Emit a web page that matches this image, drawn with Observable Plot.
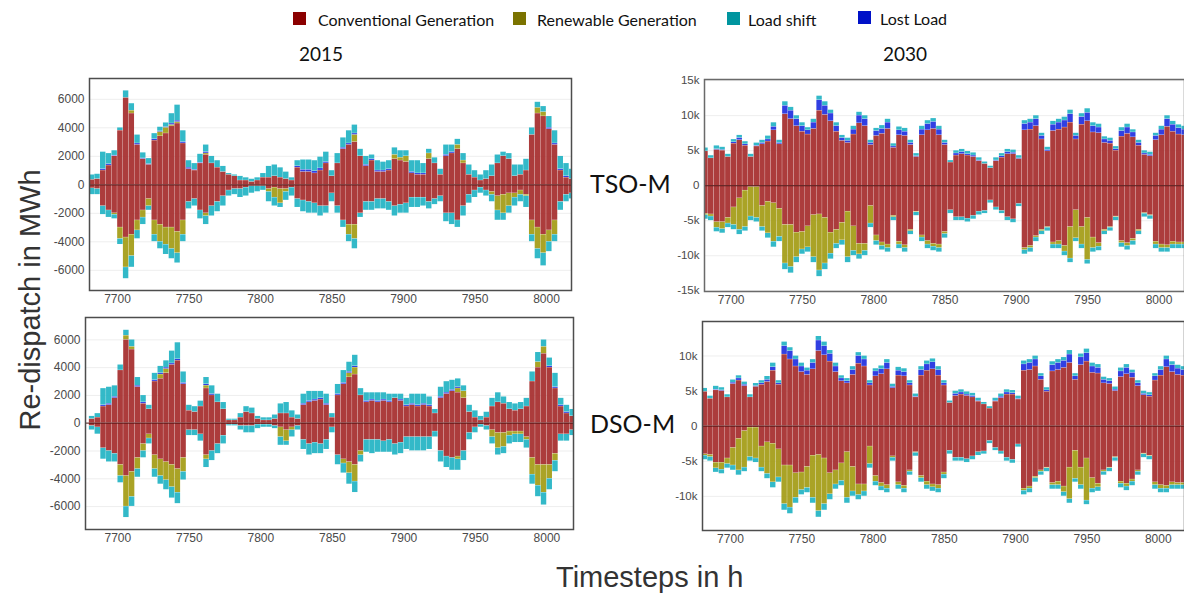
<!DOCTYPE html>
<html><head><meta charset="utf-8">
<script src="https://cdn.jsdelivr.net/npm/d3@7"></script>
<script src="https://cdn.jsdelivr.net/npm/@observablehq/plot@0.6"></script>
<style>
html,body{margin:0;padding:0;background:#fff;}
#root{position:relative;width:1184px;height:596px;overflow:hidden;background:#fff;}
.abs{position:absolute;white-space:nowrap;}
.lg{font-family:Lato,"Open Sans",sans-serif;font-size:16px;color:#111;line-height:18px;}
.sw{position:absolute;width:13px;height:13px;}
.ttl{font-family:Lato,"Open Sans",sans-serif;font-size:19px;color:#111;}
.row{font-family:Lato,"Open Sans",sans-serif;font-size:25px;color:#111;}
.axt{font-family:"Liberation Sans",Arial,sans-serif;font-size:29px;color:#333;}
</style></head>
<body><div id="root"></div>
<script>
// ---------- data ----------
const timesteps = d3.range(7680, 8020, 4); // 4-hour bins, start hour
const seriesNames = ["Conventional Generation", "Renewable Generation", "Lost Load", "Load shift"];
const barColors = ["#a52b2b", "#a39b14", "#1f2fe0", "#22b3c3"];
const legendNames = ["Conventional Generation", "Renewable Generation", "Load shift", "Lost Load"];
const legendColors = ["#8b0000", "#7b7300", "#00959f", "#0011c8"];
const xTicks = [7700, 7750, 7800, 7850, 7900, 7950, 8000];
const yTicks2015 = [-6000, -4000, -2000, 0, 2000, 4000, 6000];
const yTicksTSO2030 = [-15000, -10000, -5000, 0, 5000, 10000, 15000];
const yTicksDSO2030 = [-10000, -5000, 0, 5000, 10000];
const kLabels = {"-15000": "-15k", "-10000": "-10k", "-5000": "-5k", "0": "0", "5000": "5k", "10000": "10k", "15000": "15k"};

// 2015, TSO-M
const tso15ConvP = [350,400,1000,1350,2000,3800,6100,5000,2800,1800, 1400,3100,3400,3600,4100,4300,2900,1100,1000,1500, 2100,1500,1200,900,700,600,300,300,200,300, 500,500,600,500,400,300,1200,900,900,800, 1000,1500,600,1500,2500,2800,3000,2000,1300,1700, 900,900,1000,1800,1700,1600,800,700,700,1800, 1500,700,2000,2200,2500,1500,700,500,300,400, 600,1500,2000,1800,600,700,1000,3500,5000,4800, 3900,2800,1000,500,400];
const tso15RenP = [0,0,0,0,0,0,0,200,0,0, 0,0,300,400,100,100,0,0,0,0, 100,0,0,0,0,0,0,0,0,0, 0,0,0,0,0,0,0,0,0,0, 0,0,0,0,0,0,500,0,0,0, 0,0,0,300,200,400,0,0,0,400, 0,0,0,0,300,200,0,0,0,0, 0,0,0,0,0,0,0,0,400,300, 0,0,0,0,0];
const tso15LostP = [0,0,100,100,50,0,0,0,100,50, 50,100,50,50,100,100,100,100,50,50, 100,0,0,0,0,0,0,0,0,0, 0,0,0,0,0,0,100,150,150,150, 150,100,0,0,100,100,100,0,100,100, 100,100,100,0,0,0,100,100,100,0, 0,0,100,100,0,0,0,0,0,0, 0,0,0,0,0,0,0,0,0,0, 100,100,100,100,0];
const tso15ShiftP = [350,350,1200,750,350,200,500,500,600,400, 400,400,300,300,700,1100,800,500,450,600, 500,500,500,400,100,100,300,200,200,200, 300,800,800,700,500,200,400,700,700,750, 800,700,400,700,700,900,600,500,600,300, 700,600,600,500,500,400,800,900,700,300, 400,400,700,500,400,500,700,500,400,600, 800,600,300,400,800,700,800,500,400,400, 800,900,900,900,700];
const tso15ConvN = [-250,-300,-1500,-1800,-2000,-3000,-3700,-3500,-2500,-1800, -1000,-2500,-2800,-3000,-3000,-3300,-2500,-1200,-1000,-1800, -2000,-1500,-1200,-800,-400,-300,-300,-200,-100,-100, -100,-300,-200,-300,-300,-200,-1000,-1100,-1200,-1300, -1500,-1500,-600,-1500,-2500,-2800,-2800,-2000,-1200,-1200, -1000,-1000,-1200,-1500,-1400,-1300,-900,-900,-900,-1200, -1000,-800,-2000,-2000,-2500,-1500,-700,-400,-200,-400, -500,-800,-700,-600,-600,-400,-700,-2500,-3000,-3500, -3200,-2500,-1200,-700,-600];
const tso15RenN = [0,0,0,0,-100,-800,-2100,-1500,-700,-500, -500,-1000,-1200,-1200,-1500,-1500,-1000,0,0,0, -200,0,0,0,0,0,0,0,0,0, 0,-200,-700,-1000,-200,0,0,0,0,0, 0,0,0,0,0,-700,-1000,0,0,0, 0,0,0,0,0,0,0,0,0,0, 0,0,0,0,0,0,0,0,0,0, -200,-1000,-1300,-900,-300,-300,-100,-1000,-1500,-1300, -800,-1000,0,0,0];
const tso15ShiftN = [-450,-400,-600,-500,-300,-400,-800,-800,-600,-500, -300,-500,-500,-700,-700,-700,-500,-500,-500,-600, -600,-700,-700,-700,-400,-400,-600,-600,-500,-400, -300,-700,-600,-300,-600,-600,-600,-800,-800,-700, -700,-500,-600,-500,-500,-500,-700,-300,-600,-600, -700,-700,-600,-700,-600,-700,-700,-700,-600,-500, -400,-400,-600,-800,-500,-700,-600,-500,-400,-400, -500,-700,-500,-500,-600,-500,-800,-500,-700,-900, -700,-500,-600,-500,-400];

// 2015, DSO-M
const dso15ConvP = [300,400,1200,1300,1800,3800,6000,5300,2600,1400, 1000,3000,3200,3600,4200,4500,2800,900,800,1200, 2500,2000,1500,1000,200,200,400,800,700,300, 200,200,300,700,700,400,300,1300,1500,1600, 1700,1300,400,2000,2800,3300,3500,2000,1500,1600, 1500,1600,1500,1800,1600,1200,1300,1200,1300,1200, 700,1800,2100,2300,2200,1800,800,400,200,400, 1200,1500,1400,1000,900,1000,1200,3000,4000,5000, 4000,2500,1200,700,500];
const dso15RenP = [0,0,0,0,0,0,300,200,0,0, 0,0,300,300,0,0,0,0,0,0, 200,0,0,0,0,0,0,0,0,0, 0,0,0,0,0,0,0,0,0,0, 0,0,0,0,0,300,500,0,0,0, 0,0,0,0,0,0,0,0,0,0, 0,0,0,0,300,500,0,0,0,0, 0,0,0,0,0,0,0,0,400,500, 0,0,0,0,0];
const dso15LostP = [0,0,100,100,100,0,0,0,100,100, 0,100,100,100,100,100,100,0,0,0, 100,100,0,0,0,0,0,0,0,0, 0,0,0,0,0,0,0,100,100,100, 100,100,0,100,100,100,100,0,100,100, 100,100,100,0,100,100,100,100,100,100, 0,100,100,100,100,0,0,0,0,0, 0,0,0,0,0,0,0,0,0,0, 100,100,100,100,0];
const dso15ShiftP = [200,300,1200,1200,800,400,400,500,600,500, 300,500,500,500,900,1200,800,400,400,400, 500,600,600,500,100,100,300,400,400,200, 200,200,300,700,800,500,300,700,700,600, 500,700,300,700,900,700,800,500,600,500, 600,500,500,300,400,500,700,800,700,600, 300,700,800,700,600,400,500,500,300,400, 600,700,500,500,500,500,600,700,700,500, 600,1000,500,500,500];
const dso15ConvN = [-200,-300,-1800,-2000,-2200,-3000,-3800,-3500,-2500,-1500, -800,-2300,-2600,-2800,-3000,-3300,-2500,-500,-500,-800, -2300,-2000,-1500,-900,-100,-100,-200,-200,-200,-100, -100,-100,-200,-300,-500,-300,-200,-1200,-1500,-1400, -1500,-1200,-300,-2300,-2600,-2800,-3000,-2000,-1200,-1200, -1200,-1300,-1200,-1500,-1400,-1000,-1000,-1000,-1000,-1000, -600,-2000,-2400,-2500,-2400,-2000,-700,-300,-100,-200, -500,-700,-700,-600,-600,-600,-1000,-2500,-3000,-3000, -3000,-2200,-800,-800,-500];
const dso15RenN = [0,0,0,0,0,-800,-2200,-1800,-800,-500, -300,-1000,-1200,-1300,-1600,-1700,-1000,0,0,0, -300,0,0,0,0,0,0,0,0,0, 0,0,0,-700,-800,-200,0,0,0,0, 0,0,0,0,-300,-800,-1200,-300,0,0, 0,0,0,0,0,0,0,0,0,0, 0,0,0,0,-200,0,0,0,0,0, -500,-1100,-1000,-300,-200,-200,-200,-1200,-1500,-2000, -1000,-500,0,0,0];
const dso15ShiftN = [-300,-500,-800,-800,-600,-500,-800,-700,-600,-500, -400,-600,-600,-700,-800,-800,-600,-400,-400,-500, -600,-700,-700,-600,-100,-100,-300,-500,-500,-300, -200,-200,-200,-600,-300,-500,-300,-700,-800,-800, -700,-700,-400,-700,-700,-800,-800,-500,-900,-1000, -900,-800,-900,-800,-800,-900,-1000,-1000,-1000,-900, -400,-800,-800,-900,-800,-700,-500,-400,-200,-300, -500,-500,-500,-600,-600,-600,-600,-700,-800,-900, -800,-800,-500,-500,-400];

// 2030, TSO-M
const tso30ConvP = [4900,3900,5100,5000,4100,6000,6500,5700,4100,5600, 5900,6300,7900,5900,10200,9500,8500,7700,7300,8100, 10700,10100,9200,7700,6400,6100,7300,8900,8500,5800, 7100,7400,8100,5400,7200,7100,5800,4100,7200,7900, 8100,7200,5800,3300,4300,4500,4300,4100,3500,3100, 2500,3500,4000,4500,4500,3800,7900,8000,8500,6600, 4900,7800,8000,8300,9000,6600,8700,9200,7600,7500, 6100,6000,5000,7000,7400,6900,5700,4400,4200,6500, 7200,8400,7700,7300,7200];
const tso30LostP = [0,0,100,100,0,200,300,200,0,100, 200,300,500,200,1200,1200,1000,800,600,900, 1500,1300,1100,800,400,300,700,1100,1000,300, 700,700,900,200,700,600,300,100,800,900, 1000,800,300,0,300,300,200,200,100,0, 0,100,200,300,200,100,900,1000,1000,500, 200,900,1000,1000,1200,500,1100,1200,900,800, 500,400,200,800,900,700,400,200,200,600, 800,1100,1000,900,800];
const tso30ShiftP = [500,400,500,400,400,400,400,400,400,400, 400,500,600,400,600,500,500,500,400,500, 600,600,500,500,400,400,500,500,500,400, 400,500,500,400,500,500,400,400,500,500, 500,500,400,300,400,400,400,400,400,300, 300,400,400,400,400,400,500,500,500,400, 400,500,500,500,600,400,500,600,500,500, 400,400,400,500,500,400,400,400,400,400, 500,500,500,500,500];
const tso30ConvN = [-4000,-4100,-5200,-5200,-4600,-3100,-1800,-700,-200,-200, -2900,-2300,-2500,-3300,-5600,-5600,-6700,-6600,-5800,-4200, -4100,-4600,-6700,-6300,-5300,-3700,-5800,-8300,-8300,-2900, -7100,-8100,-8400,-4300,-8000,-8500,-6300,-3700,-7100,-7900, -8300,-8400,-6600,-3500,-4500,-4500,-4700,-4300,-3700,-3600, -2100,-3100,-3600,-4500,-4800,-2600,-8900,-8600,-7200,-6300, -5900,-8100,-7900,-8600,-5900,-3500,-5900,-4600,-7400,-8200, -6300,-5900,-4400,-7900,-8200,-7600,-6300,-3900,-4200,-8000, -8400,-8500,-8000,-8100,-8100];
const tso30RenN = [-200,-300,-800,-1000,-800,-2500,-4500,-5200,-4200,-4400, -3000,-4500,-5500,-4000,-5500,-6000,-3500,-2500,-3000,-6000, -8000,-6500,-3000,-2000,-2500,-6500,-3500,-1500,-1000,-2500, -800,-500,-500,-200,-400,-400,-200,-100,-300,-500, -400,-500,-300,0,0,0,0,0,0,0, 0,0,0,0,0,0,-300,-300,-200,-200, -100,-300,-500,-800,-4500,-4000,-2500,-6000,-1500,-500, -200,-100,-100,-300,-400,-300,-200,-100,-100,-400, -500,-400,-400,-300,-300];
const tso30ShiftN = [-600,-600,-600,-600,-600,-700,-700,-600,-600,-600, -600,-700,-800,-700,-900,-900,-800,-700,-700,-800, -900,-900,-800,-700,-700,-800,-700,-700,-700,-600, -600,-600,-600,-500,-600,-600,-500,-500,-600,-600, -600,-600,-600,-500,-500,-500,-500,-500,-500,-400, -400,-400,-400,-500,-500,-400,-600,-600,-600,-500, -500,-600,-600,-600,-600,-500,-600,-600,-600,-600, -500,-500,-500,-600,-600,-600,-500,-500,-500,-600, -600,-600,-600,-600,-600];

// 2030, DSO-M (reads the same as TSO-M in the picture)
const dso30ConvP = tso30ConvP, dso30LostP = tso30LostP, dso30ShiftP = tso30ShiftP;
const dso30ConvN = tso30ConvN, dso30RenN = tso30RenN, dso30ShiftN = tso30ShiftN;

// ---------- build ----------
function buildRows(parts) {
  const out = [];
  for (const [name, arr] of parts) {
    arr.forEach((v, i) => { if (v !== 0) out.push({t: timesteps[i], t2: timesteps[i] + 4, series: name, value: v}); });
  }
  return out;
}
const [CG, RG, LL, LS] = seriesNames;
const rowsTSO15 = buildRows([[CG, tso15ConvP],[RG, tso15RenP],[LL, tso15LostP],[LS, tso15ShiftP],[CG, tso15ConvN],[RG, tso15RenN],[LS, tso15ShiftN]]);
const rowsDSO15 = buildRows([[CG, dso15ConvP],[RG, dso15RenP],[LL, dso15LostP],[LS, dso15ShiftP],[CG, dso15ConvN],[RG, dso15RenN],[LS, dso15ShiftN]]);
const rowsTSO30 = buildRows([[CG, tso30ConvP],[LL, tso30LostP],[LS, tso30ShiftP],[CG, tso30ConvN],[RG, tso30RenN],[LS, tso30ShiftN]]);
const rowsDSO30 = buildRows([[CG, dso30ConvP],[LL, dso30LostP],[LS, dso30ShiftP],[CG, dso30ConvN],[RG, dso30RenN],[LS, dso30ShiftN]]);

function panel(rows, o) {
  return Plot.plot({
    width: o.width, height: o.height,
    marginLeft: o.ml, marginRight: o.mr, marginTop: o.mt, marginBottom: o.mb,
    x: {domain: o.xd},
    y: {domain: o.yd},
    color: {domain: seriesNames, range: barColors},
    style: {fontFamily: "'Liberation Sans', Arial, sans-serif", fontSize: "12px", color: "#4a4a4a", background: "transparent"},
    marks: [
      Plot.gridY(o.yt, {stroke: "#000", strokeOpacity: 0.07}),
      Plot.rectY(rows, {x1: "t", x2: "t2", y: "value", fill: "series", order: seriesNames, inset: 0.15, fillOpacity: 0.92, clip: true}),
      Plot.ruleY([0], {stroke: "#4a0d0d", strokeWidth: 1.2, strokeOpacity: 0.75}),
      Plot.axisX(xTicks, {tickSize: 0, tickPadding: 4, tickFormat: d => String(d), label: null, fontSize: 12}),
      Plot.axisY(o.yt, {tickSize: 0, tickPadding: 5, tickFormat: o.yf, label: null, fontSize: o.yfs}),
      Plot.frame({stroke: o.frame, strokeWidth: 1.5})
    ]
  });
}

const root = document.getElementById("root");
function place(el, left, top) { el.style.position = "absolute"; el.style.left = left + "px"; el.style.top = top + "px"; root.appendChild(el); }

place(panel(rowsTSO15, {width: 580, height: 240, ml: 89, mr: 9, mt: 8, mb: 20, xd: [7680.4, 8017.5], yd: [-7417, 7460], yt: yTicks2015, yf: d => String(d), yfs: 12, frame: "#4d4d4d"}), 0, 70);
place(panel(rowsDSO15, {width: 580, height: 240, ml: 85, mr: 7, mt: 7, mb: 21, xd: [7677.4, 8018.6], yd: [-7650, 7610], yt: yTicks2015, yf: d => String(d), yfs: 12, frame: "#4d4d4d"}), 0, 310);
place(panel(rowsTSO30, {width: 546, height: 240, ml: 64, mr: 2, mt: 9, mb: 19, xd: [7681.3, 8017.9], yd: [-15100, 15160], yt: yTicksTSO2030, yf: d => kLabels[d], yfs: 11.5, frame: "#6a6a6a"}), 640, 70);
place(panel(rowsDSO30, {width: 546, height: 240, ml: 62, mr: 2, mt: 11, mb: 20, xd: [7680.4, 8018.4], yd: [-14860, 14915], yt: yTicksDSO2030, yf: d => kLabels[d], yfs: 11.5, frame: "#4d4d4d"}), 640, 310);

// ---------- text ----------
function text(cls, str, left, top, extra) {
  const d = document.createElement("div");
  d.className = "abs " + cls; d.textContent = str;
  place(d, left, top);
  if (extra) Object.assign(d.style, extra);
  return d;
}
// legend: [swatch x, text x, top]
const legendPos = [[293, 318, 11], [513, 537, 11], [727, 748, 11], [858, 880, 10]];
legendNames.forEach((name, i) => {
  const [sx, tx, sy] = legendPos[i];
  const sw = document.createElement("div");
  sw.className = "sw"; sw.style.background = legendColors[i];
  place(sw, sx, sy + 1);
  text("lg", name, tx, sy);
});
text("ttl", "2015", 299, 42);
text("ttl", "2030", 883, 42);
text("row", "TSO-M", 590, 168);
text("row", "DSO-M", 590, 408);
text("axt", "Timesteps in h", 556, 561);
text("axt", "Re-dispatch in MWh", 30, 300, {transform: "translate(-50%,-50%) rotate(-90deg)", transformOrigin: "center"});
</script>
</body></html>
